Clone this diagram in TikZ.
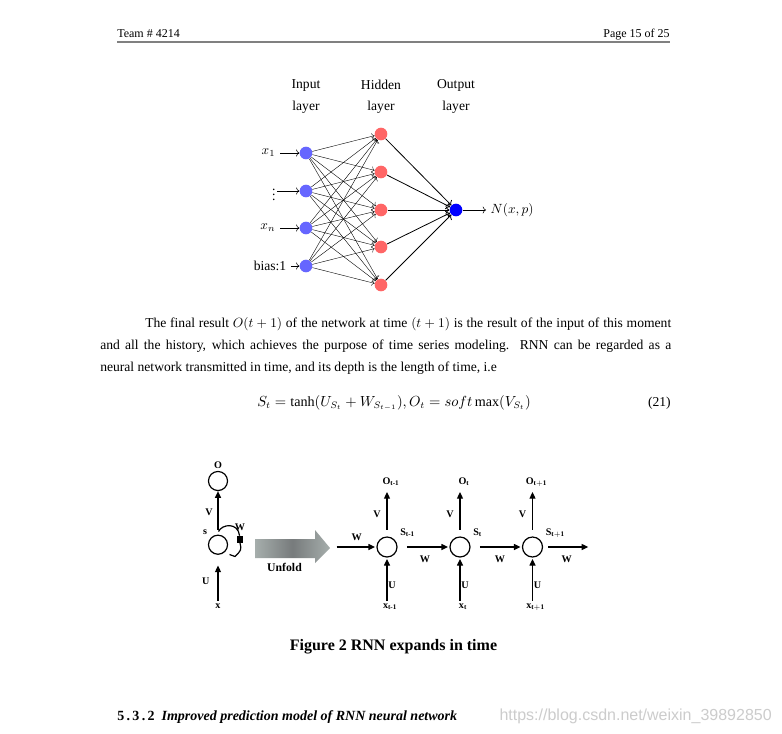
\documentclass[tikz,border=0pt]{standalone}
\usepackage{amsmath}
\usepackage{fontspec}
\setmainfont{Liberation Serif}
\newfontfamily\wmfont{Liberation Sans}
\usetikzlibrary{arrows.meta}

\definecolor{unfoldlight}{HTML}{A6AEAC}
\definecolor{unfolddark}{HTML}{777B7C}

\begin{document}
\begin{tikzpicture}[x=0.75pt, y=-0.75pt,
    innode/.style={circle, fill=blue!60, inner sep=0pt, minimum size=9.5pt},
    hidnode/.style={circle, fill=red!60, inner sep=0pt, minimum size=9.5pt},
    outnode/.style={circle, fill=blue, inner sep=0pt, minimum size=9.5pt},
    body/.style={anchor=base west, inner sep=0pt, font=\fontsize{10.2}{13}\selectfont},
    netlbl/.style={font=\fontsize{10.2}{13}\selectfont},
    cell/.style={circle, draw, line width=0.9pt, inner sep=0pt, minimum size=15pt},
    lbl/.style={inner sep=0pt, font=\bfseries\fontsize{7.6}{9}\selectfont},
    rnnarrow/.style={-{Triangle[length=5pt,width=4.5pt]}, line width=0.9pt}]

    \fill[white] (0,0) rectangle (782,733);
    \useasboundingbox (0,0) rectangle (782,733);

    % page header
    \node[anchor=base west, inner sep=0pt, font=\fontsize{9}{11}\selectfont] (team) at (117,37) {Team \# 4214};
    \node[anchor=base east, inner sep=0pt, font=\fontsize{9}{11}\selectfont] (page) at (670,37) {Page 15 of 25};
    \draw[gray, line width=0.8pt] (117,42) -- (670,42);

    % layer titles
    \foreach \n/\x/\t in {inl/306/Input, hidl/381/Hidden, outl/456/Output} {
        \node[netlbl] (\n) at (\x,85) {\t};
        \node[netlbl] (\n2) at (\x,107) {layer};
    }

    % input layer (left)
    \foreach \i/\y in {1/153, 2/191, 3/228, 4/266}
        \node[innode] (in\i) at (306,\y) {};
    % hidden layer (middle)
    \foreach \j/\y in {1/134, 2/172, 3/210, 4/247, 5/285}
        \node[hidnode] (hid\j) at (381,\y) {};
    % output layer (right)
    \node[outnode] (out) at (456,210) {};

    \foreach \i in {1,...,4}
        \foreach \j in {1,...,5}
            \draw[->, line width=0.3pt] (in\i) -- (hid\j);
    \foreach \j in {1,...,5}
        \draw[->, line width=0.6pt] (hid\j) -- (out);

    % inputs and output
    \node[netlbl, anchor=east] (x1) at (280,153) {$x_1$};
    \node[netlbl, anchor=east, inner sep=1pt] (xdots) at (277,191) {$\vdots$};
    \node[netlbl, anchor=east] (xn) at (280,228) {$x_n$};
    \node[netlbl, anchor=east] (bias) at (291,266) {bias:1};
    \draw[->, line width=0.4pt] (x1) -- (in1);
    \draw[->, line width=0.4pt] (xdots) -- (in2);
    \draw[->, line width=0.4pt] (xn) -- (in3);
    \draw[->, line width=0.4pt] (bias) -- (in4);
    \node[netlbl, anchor=west] (nxp) at (486,210) {$N(x,p)$};
    \draw[->, line width=0.4pt] (out) -- (nxp);

    % paragraph
    \node[body] (par1) at (145,327) {\makebox[394.5pt][s]{The final result $O(t+1)$ of the network at time $(t+1)$ is the result of the input of this moment}};
    \node[body] (par2) at (100,349) {\makebox[428.25pt][s]{and all the history, which achieves the purpose of time series modeling.\ \ RNN can be regarded as a}};
    \node[body] (par3) at (100,371) {neural network transmitted in time, and its depth is the length of time, i.e};

    % equation
    \node[anchor=base, inner sep=0pt, font=\fontsize{10.6}{13}\selectfont] (eq) at (394,406) {$S_t=\text{tanh}(U_{S_t}+W_{S_{t-1}}),O_t=soft\,\text{max}(V_{S_t})$};
    \node[anchor=base east, inner sep=0pt, font=\fontsize{10.2}{13}\selectfont] (eqno) at (671,406) {(21)};

    % folded RNN (left)
    \node[cell, minimum size=14.3pt] (o) at (218,481) {};
    \node[cell, minimum size=14.3pt] (s) at (218,544.7) {};
    \node[lbl] (olab) at (218,465) {O};
    \node[lbl] (slab) at (205,532) {s};
    \node[lbl] (vlab) at (209,512) {V};
    \node[lbl] (wlab) at (240,527) {W};
    \node[lbl] (ulab) at (205.7,581) {U};
    \node[lbl] (xlab) at (218,606) {x};
    \draw[rnnarrow, shorten <=3.7pt] (s) -- (o);
    \draw[rnnarrow, shorten <=2pt, shorten >=8pt] (xlab) -- (s);
    \node[fill=black, inner sep=0pt, minimum size=5pt] (sq) at (240,539.3) {};
    \draw[line width=0.9pt] (218.5,531.5) .. controls (222,524) and (238,522) .. (sq);
    \draw[line width=0.9pt] (sq.south) .. controls (241.5,550) .. (235,556.5) -- (229.5,554.5);

    % unfold arrow
    \shade[left color=unfoldlight, right color=unfoldlight, middle color=unfolddark]
        (255,539) -- (315,539) -- (315,530) -- (330,548) -- (315,563) -- (315,558) -- (255,558) -- cycle;
    \node[lbl, font=\bfseries\fontsize{8.8}{10}\selectfont] (unfold) at (284.5,567) {Unfold};

    % unfolded RNN (right)
    \foreach \k/\x/\ol/\sl/\xl in {1/387/{O$_{\mathbf{t\text{-}1}}$}/{S$_{\mathbf{t\text{-}1}}$}/{x$_{\mathbf{t\text{-}1}}$},
                                 2/460/{O$_{\mathbf{t}}$}/{S$_{\mathbf{t}}$}/{x$_{\mathbf{t}}$},
                                 3/532.5/{O$_{\mathbf{t+1}}$}/{S$_{\mathbf{t+1}}$}/{x$_{\mathbf{t+1}}$}} {
        \node[cell] (c\k) at (\x,547) {};
        \node[lbl] (o\k) at (\x+4,482) {\ol};
        \node[lbl, anchor=west] (s\k) at (\x+13,533) {\sl};
        \node[lbl] (v\k) at (\x-10,514) {V};
        \node[lbl] (u\k) at (\x+5,585) {U};
        \node[lbl] (x\k) at (\x+3,607) {\xl};
        \draw[rnnarrow, shorten <=5pt, shorten >=7.5pt] (c\k) -- (c\k |- o\k);
        \draw[rnnarrow, shorten >=1pt] (\x,600.5) -- (c\k);
    }
    \coordinate (win) at (336.7,547);
    \coordinate (wout) at (588.3,547);
    \draw[rnnarrow, shorten >=1pt] (win) -- (c1);
    \draw[rnnarrow, shorten <=7pt, shorten >=1pt] (c1) -- (c2);
    \draw[rnnarrow, shorten <=7pt, shorten >=1pt] (c2) -- (c3);
    \draw[rnnarrow, shorten <=4pt] (c3) -- (wout);
    \node[lbl] (w0) at (356.7,537) {W};
    \node[lbl] (w1) at (425,559.5) {W};
    \node[lbl] (w2) at (500,559.5) {W};
    \node[lbl] (w3) at (566.7,559.5) {W};

    % caption and heading
    \node[inner sep=0pt, font=\bfseries\fontsize{12}{14}\selectfont] (cap) at (393.5,647) {Figure 2 RNN expands in time};
    \node[anchor=base west, inner sep=0pt, font=\bfseries\fontsize{10.5}{12}\selectfont] (sec) at (117,720)
        {5\,.\,3\,.\,2\ \ \textit{Improved prediction model of RNN neural network}};
    \node[anchor=base east, inner sep=0pt, text=gray!40, font=\wmfont\fontsize{12}{14}\selectfont] (wm) at (772,720)
        {https://blog.csdn.net/weixin\_39892850};
\end{tikzpicture}
\end{document}
